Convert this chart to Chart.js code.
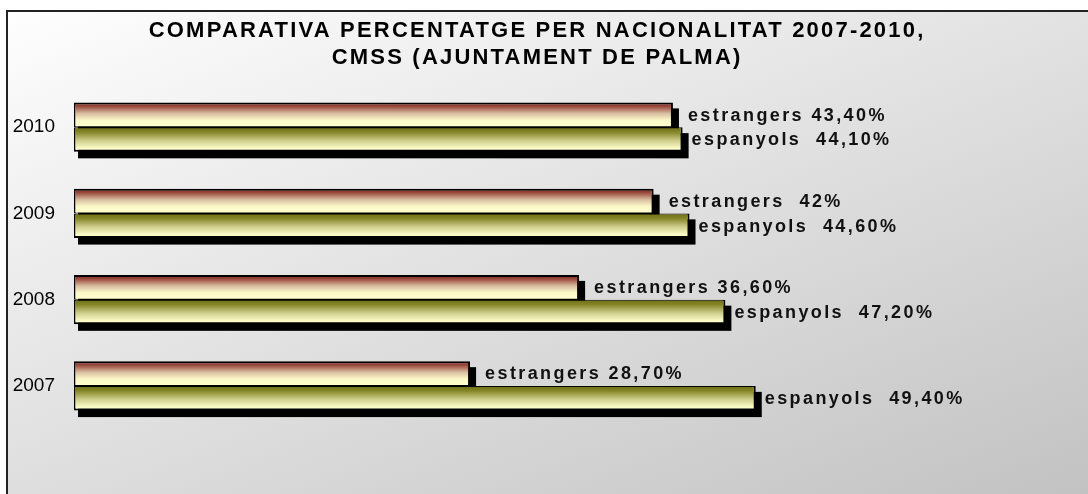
<!DOCTYPE html>
<html>
<head>
<meta charset="utf-8">
<script src="https://cdn.jsdelivr.net/npm/chart.js@4/dist/chart.umd.min.js"></script>
<style>
html,body{margin:0;padding:0;background:#fff;overflow:hidden;}
canvas{display:block;}
</style>
</head>
<body>
<canvas id="c" width="1088" height="494"></canvas>
<script>
const categories = ['2010', '2009', '2008', '2007'];
const estrangers = [43.4, 42, 36.6, 28.7];
const espanyols = [44.1, 44.6, 47.2, 49.4];
const estrangersLabels = ['estrangers 43,40%', 'estrangers  42%', 'estrangers 36,60%', 'estrangers 28,70%'];
const espanyolsLabels = ['espanyols  44,10%', 'espanyols  44,60%', 'espanyols  47,20%', 'espanyols  49,40%'];
const titleLines = ['COMPARATIVA PERCENTATGE PER NACIONALITAT 2007-2010,', 'CMSS (AJUNTAMENT DE PALMA)'];

const CAT_PCT = 0.573;
const FONT = "'Liberation Sans', Arial, sans-serif";

const estStops = [[0, '#7a221e'], [0.15, '#974538'], [0.45, '#d8bfa1'], [0.72, '#fbf8c8'], [1, '#ffffcc']];
const espStops = [[0, '#6c6c13'], [0.2, '#858528'], [0.55, '#cfcf8d'], [0.85, '#fafac6'], [1, '#ffffcc']];

const bgPlugin = {
  id: 'bg',
  beforeDraw(chart) {
    const ctx = chart.ctx;
    ctx.save();
    ctx.fillStyle = '#ffffff';
    ctx.fillRect(0, 0, chart.width, chart.height);
    const g = ctx.createLinearGradient(0, 0, 312, 800);
    g.addColorStop(0, '#ffffff');
    g.addColorStop(1, '#c2c2c2');
    ctx.fillStyle = g;
    ctx.fillRect(6, 10, chart.width - 6, chart.height - 10);
    ctx.strokeStyle = '#222';
    ctx.lineWidth = 2;
    ctx.beginPath();
    ctx.moveTo(7, chart.height);
    ctx.lineTo(7, 11);
    ctx.lineTo(chart.width, 11);
    ctx.stroke();
    // title
    ctx.fillStyle = '#000';
    ctx.font = 'bold 22px ' + FONT;
    try { ctx.letterSpacing = '2.2px'; } catch (e) {}
    ctx.textAlign = 'left';
    ctx.textBaseline = 'middle';
    const cx = 536;
    const ys = [31, 58];
    titleLines.forEach((t, i) => {
      const w = ctx.measureText(t).width - 2.2;
      ctx.fillText(t, cx - w / 2, ys[i]);
    });
    ctx.restore();
  }
};

const shadowPlugin = {
  id: 'shadows',
  beforeDatasetsDraw(chart) {
    const ctx = chart.ctx;
    const stopsets = [estStops, espStops];
    ctx.save();
    ctx.fillStyle = '#000';
    chart.data.datasets.forEach((ds, di) => {
      chart.getDatasetMeta(di).data.forEach(el => {
        const p = el.getProps(['x', 'y', 'base', 'height'], true);
        ctx.fillRect(p.base + 4, p.y - p.height / 2 + 6, p.x - p.base + 2, p.height + 0.5);
        const top = p.y - p.height / 2;
        const g = ctx.createLinearGradient(0, top, 0, top + p.height);
        stopsets[di].forEach(s => g.addColorStop(s[0], s[1]));
        el.options = Object.assign({}, el.options, {backgroundColor: g});
      });
    });
    ctx.restore();
  }
};

const labelPlugin = {
  id: 'barLabels',
  afterDatasetsDraw(chart) {
    const ctx = chart.ctx;
    ctx.save();
    ctx.font = 'bold 18px ' + FONT;
    try { ctx.letterSpacing = '2.4px'; } catch (e) {}
    ctx.fillStyle = '#111';
    ctx.textAlign = 'left';
    ctx.textBaseline = 'middle';
    const sets = [estrangersLabels, espanyolsLabels];
    const offs = [15, 9];
    chart.data.datasets.forEach((ds, di) => {
      chart.getDatasetMeta(di).data.forEach((el, i) => {
        const p = el.getProps(['x', 'y'], true);
        ctx.fillText(sets[di][i], p.x + offs[di], p.y + 1);
      });
    });
    ctx.restore();
  }
};

new Chart(document.getElementById('c'), {
  type: 'bar',
  data: {
    labels: categories,
    datasets: [
      {
        label: 'estrangers',
        data: estrangers,
        backgroundColor: () => '#ffffcc',
        borderColor: '#000',
        borderWidth: {top: 2, bottom: 1, left: 1.5, right: 2},
        borderSkipped: false,
        categoryPercentage: CAT_PCT,
        barPercentage: 1
      },
      {
        label: 'espanyols',
        data: espanyols,
        backgroundColor: () => '#ffffcc',
        borderColor: '#000',
        borderWidth: {top: 1, bottom: 2, left: 1.5, right: 2},
        borderSkipped: false,
        categoryPercentage: CAT_PCT,
        barPercentage: 1
      }
    ]
  },
  options: {
    responsive: false,
    animation: false,
    indexAxis: 'y',
    layout: {padding: {left: 0, right: 18, top: 84, bottom: 65}},
    scales: {
      x: {
        display: false,
        min: 0,
        max: 72.17
      },
      y: {
        grid: {display: false, drawTicks: false, tickLength: 0},
        border: {display: false},
        ticks: {color: '#000', padding: 19, font: {family: FONT, size: 19}},
        afterFit(s) { s.width = 74; }
      }
    },
    plugins: {
      legend: {display: false},
      tooltip: {enabled: false},
      title: {display: false}
    }
  },
  plugins: [bgPlugin, shadowPlugin, labelPlugin]
});
</script>
</body>
</html>
